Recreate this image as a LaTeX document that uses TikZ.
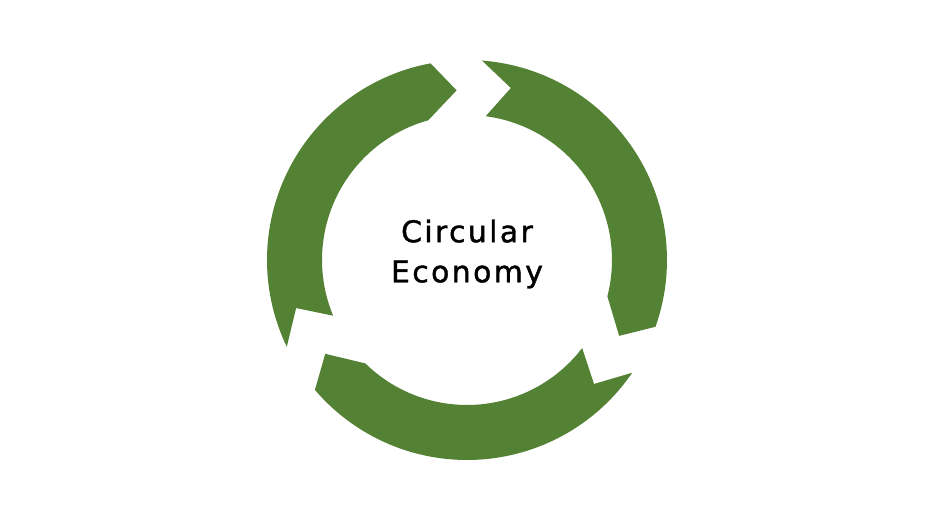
\documentclass[tikz,border=0pt]{standalone}
\usepackage{fontspec}
\setmainfont{DejaVu Sans}
\definecolor{ecogreen}{HTML}{548235}

\begin{document}
\begin{tikzpicture}
\useasboundingbox (-9.34,-5.3) rectangle (9.44,5.2);

% three arrows round the ring
\foreach \a in {0,120,240}
  \fill[ecogreen] ({205.7-\a}:4) arc[start angle=205.7-\a, end angle=100.5-\a, radius=4]
    -- ({93.5-\a}:3.4) -- ({105.5-\a}:2.9)
    arc[start angle=105.5-\a, end angle=202.6-\a, radius=2.9]
    -- ({195.7-\a}:3.55) -- cycle;

\node[align=center, font=\fontsize{17}{22.8}\selectfont\addfontfeatures{LetterSpace=8,FakeBold=1.3}] (title) at (0,0.12) {Circular\\Economy};
\end{tikzpicture}
\end{document}
